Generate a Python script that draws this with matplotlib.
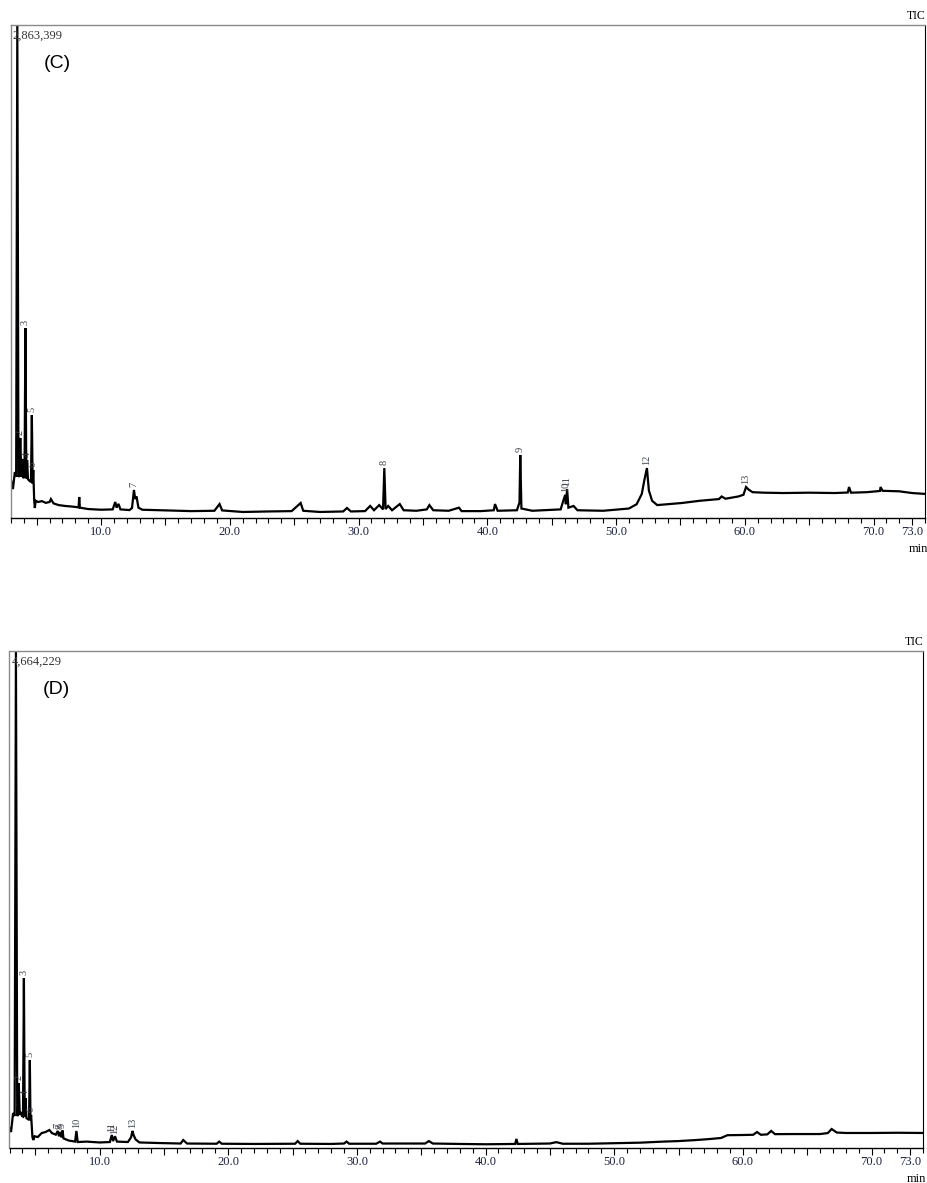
import numpy as np
import matplotlib
matplotlib.use("Agg")
from matplotlib import pyplot as plt
from matplotlib.ticker import MultipleLocator

# ---- chromatogram C (time in min, intensity in counts x1000) ----
c_time = [3.00, 3.15, 3.30, 3.40, 3.49, 3.58, 3.65, 3.72, 3.80, 3.88, 3.95, 4.05, 4.12, 4.19,
          4.25, 4.32, 4.45, 4.55, 4.62, 4.68, 4.73, 4.80, 4.85, 4.92, 5.1, 5.4, 5.7, 6.0, 6.1,
          6.3, 6.7, 7.2, 7.8, 8.25, 8.3, 8.35, 9.0, 10.0, 10.9, 11.1, 11.2, 11.35, 11.5, 12.2,
          12.4, 12.55, 12.65, 12.75, 12.9, 13.2, 15.0, 17.0, 18.8, 19.2, 19.4, 21.0, 23.0, 24.8,
          25.5, 25.7, 27.0, 28.8, 29.1, 29.4, 30.5, 30.9, 31.2, 31.6, 31.9, 32.0, 32.1, 32.3,
          32.6, 33.2, 33.5, 34.5, 35.3, 35.5, 35.8, 37.0, 37.8, 38.0, 39.5, 40.5, 40.6, 40.8,
          42.3, 42.5, 42.56, 42.65, 43.5, 45.7, 45.9, 46.05, 46.1, 46.2, 46.3, 46.7, 47.0, 49.0,
          51.0, 51.6, 52.0, 52.2, 52.4, 52.55, 52.8, 53.2, 54.0, 55.1, 56.5, 58.0, 58.2, 58.5,
          59.5, 59.9, 60.1, 60.3, 60.6, 61.5, 63.0, 65.0, 67.0, 68.0, 68.1, 68.25, 69.5, 70.5,
          70.55, 70.7, 72.0, 73.0, 74.0]
c_int = [221, 168, 267, 240, 2863.399, 238, 250, 465, 238, 343, 232, 240, 1103, 230,
         337, 225, 215, 209, 598, 200, 279, 105, 58, 100, 93, 98, 88, 93, 110,
         85, 75, 70, 66, 62, 122, 60, 52, 48, 50, 93, 60, 82, 50, 46,
         58, 163, 110, 125, 60, 48, 44, 40, 42, 81, 44, 35, 38, 40,
         87, 42, 35, 38, 58, 38, 40, 70, 45, 75, 50, 290, 52, 70,
         45, 81, 45, 42, 50, 75, 45, 42, 60, 40, 40, 45, 81, 42,
         45, 90, 366, 55, 42, 50, 100, 134, 80, 168, 60, 70, 45, 42,
         55, 80, 140, 220, 290, 160, 100, 75, 80, 87, 100, 110, 125, 112,
         125, 135, 180, 165, 150, 147, 145, 147, 145, 148, 180, 147, 150, 157,
         180, 158, 155, 145, 140]
c_max = 2863399
c_peak_no = ["2", "3", "4", "5", "6", "7", "8", "9", "10", "11", "12", "13"]
c_peak_rt = [3.72, 4.12, 4.25, 4.62, 4.73, 12.55, 32.0, 42.56, 46.05, 46.2, 52.4, 60.1]

# ---- chromatogram D ----
d_time = [3.00, 3.12, 3.28, 3.40, 3.50, 3.60, 3.65, 3.72, 3.80, 3.90, 3.98, 4.05, 4.12, 4.18,
          4.25, 4.32, 4.45, 4.52, 4.58, 4.63, 4.68, 4.78, 4.85, 4.95, 5.2, 5.5, 5.8, 6.1, 6.3,
          6.6, 6.75, 6.85, 6.95, 7.05, 7.12, 7.2, 7.6, 8.1, 8.2, 8.3, 9.0, 10.0, 10.8, 10.95,
          11.05, 11.2, 11.35, 12.2, 12.45, 12.55, 12.65, 12.8, 13.1, 14.5, 16.3, 16.5, 16.8,
          19.1, 19.3, 19.5, 22.0, 25.2, 25.4, 25.6, 28.0, 29.0, 29.2, 29.4, 31.5, 31.8, 32.0,
          35.3, 35.6, 35.9, 38.0, 40.0, 42.3, 42.4, 42.5, 45.0, 45.5, 46.0, 48.0, 50.0, 52.0,
          53.8, 55.0, 56.4, 57.5, 58.3, 58.8, 60.0, 60.8, 61.1, 61.4, 61.9, 62.2, 62.5, 64.0,
          66.0, 66.6, 66.9, 67.3, 68.0, 70.0, 72.0, 74.0]
d_int = [188, 150, 328, 300, 4664.229, 300, 310, 610, 310, 338, 300, 295, 1595, 291,
         469, 280, 270, 263, 826, 260, 310, 103, 75, 110, 103, 140, 150, 169, 140,
         125, 160, 110, 150, 100, 165, 90, 70, 60, 160, 56, 60, 52, 56, 122,
         65, 110, 60, 56, 100, 160, 120, 80, 52, 47, 42, 75, 42,
         40, 60, 40, 38, 40, 65, 40, 38, 42, 60, 40, 40, 60, 42,
         42, 65, 42, 38, 35, 38, 85, 38, 42, 55, 40, 40, 45, 50,
         60, 65, 75, 85, 94, 120, 122, 124, 150, 124, 128, 160, 130, 131,
         131, 140, 178, 145, 141, 141, 143, 141]
d_max = 4664229
d_peak_no = ["2", "3", "4", "5", "6", "7", "8", "9", "10", "11", "12", "13"]
d_peak_rt = [3.72, 4.12, 4.25, 4.58, 4.68, 6.75, 6.95, 7.12, 8.2, 10.95, 11.2, 12.55]

ticks_major = [5, 10, 15, 20, 25, 30, 35, 40, 45, 50, 55, 60, 65, 70, 73]
tick_text = {10: "10.0", 20: "20.0", 30: "30.0", 40: "40.0", 50: "50.0",
             60: "60.0", 70: "70.0", 73: "73.0"}

serif = "Liberation Serif"

fig = plt.figure(figsize=(9.28, 11.83), dpi=100)
ax_c = fig.add_axes([11 / 928, 1 - 518 / 1183, 914 / 928, 493 / 1183])
ax_d = fig.add_axes([9.5 / 928, 1 - 1148 / 1183, 913.5 / 928, 497 / 1183])


def draw(ax, t, y, ymax, nos, rts, tag):
    t = np.array(t)
    y = np.array(y) * 1000
    ax.plot(t, y, color="black", lw=1.6, solid_joinstyle="miter")
    ax.set_xlim(3.0, 74.0)
    ax.set_ylim(0, ymax)
    ax.set_yticks([])
    ax.set_xticks(ticks_major)
    ax.set_xticklabels([tick_text.get(v, "") for v in ticks_major],
                       fontfamily=serif, fontsize=9, color="#1c2340")
    ax.xaxis.set_minor_locator(MultipleLocator(1))
    ax.tick_params(axis="x", which="major", direction="out", length=5, width=0.8, pad=1)
    ax.tick_params(axis="x", which="minor", direction="out", length=3.5, width=0.8)
    for s in ["top", "left"]:
        ax.spines[s].set_color("#8a8a8a")
        ax.spines[s].set_linewidth(1.0)
    ax.spines["right"].set_color("black")
    ax.spines["bottom"].set_color("black")
    ax.spines["bottom"].set_linewidth(1.0)

    # peak numbers
    for no, rt in zip(nos, rts):
        near = np.abs(t - rt) < 0.04
        top = y[near].max()
        ax.annotate(no, (rt, top), xytext=(0, 2), textcoords="offset points",
                    rotation=90, ha="center", va="bottom",
                    fontfamily=serif, fontsize=7.5, color="#3a3f4a")

    ax.text(1.001, 1.006, "TIC", transform=ax.transAxes, ha="right", va="bottom",
            fontfamily=serif, fontsize=8.5)
    ax.text(0.993, -0.062, "min", transform=ax.transAxes, ha="center", va="center",
            fontfamily=serif, fontsize=9)
    ax.text(0.002, 0.978, f"{ymax:,}", transform=ax.transAxes, ha="left", va="center",
            fontfamily=serif, fontsize=9, color="#333333")
    ax.text(0.036, 0.922, tag, transform=ax.transAxes, ha="left", va="center",
            fontfamily="Liberation Sans", fontsize=14)


draw(ax_c, c_time, c_int, c_max, c_peak_no, c_peak_rt, "(C)")
draw(ax_d, d_time, d_int, d_max, d_peak_no, d_peak_rt, "(D)")

plt.savefig("out.png", dpi=100)
